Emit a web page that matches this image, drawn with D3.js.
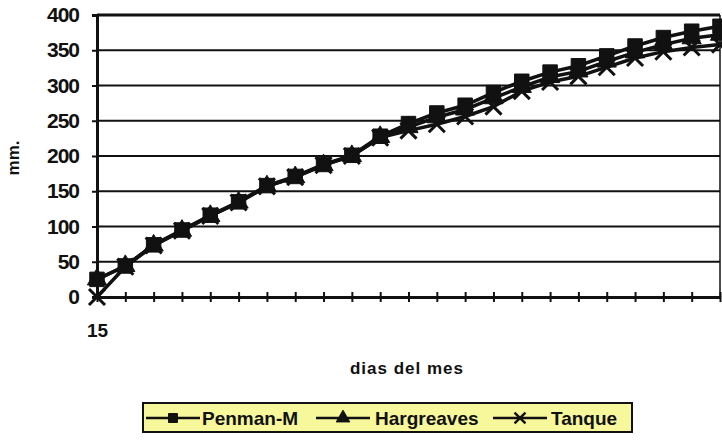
<!DOCTYPE html>
<html>
<head>
<meta charset="utf-8">
<script src="https://cdn.jsdelivr.net/npm/d3@7"></script>
<style>
  html, body { margin: 0; padding: 0; background: #fff; }
  svg { display: block; }
  text { font-family: "Liberation Sans", Arial, sans-serif; font-weight: bold; fill: #111; }
</style>
</head>
<body>
<svg id="chart" width="722" height="441"></svg>
<script>
// Days of the month (category axis)
const days = [15, 16, 17, 18, 19, 20, 21, 22, 23, 24, 25, 26, 27, 28, 29, 30, 31, 32, 33, 34, 35, 36, 37];
// Only the first day carries a label on the axis
const dayLabels = ["15"];
// Cumulative evapotranspiration, mm
const penman     = [25, 44, 74, 95, 116, 135, 158, 171, 188, 201, 228, 246, 261, 272, 290, 306, 319, 328, 342, 356, 368, 377, 384];
const hargreaves = [25, 44, 73, 94, 115, 134, 157, 170, 187, 200, 227, 241, 255, 266, 282, 298, 312, 320, 334, 347, 358, 367, 372];
const tanque     = [0, 43, 73, 94, 115, 134, 157, 170, 187, 200, 226, 236, 245, 256, 270, 292, 305, 313, 326, 339, 348, 354, 358];
const yTicks = [0, 50, 100, 150, 200, 250, 300, 350, 400];
const seriesNames = ["Penman-M", "Hargreaves", "Tanque"];

const svg = d3.select("#chart");
const plotLeft = 97, plotRight = 720, plotTop = 15, plotBottom = 297;

const x = d3.scalePoint().domain(days).range([plotLeft, plotRight]);
const y = d3.scaleLinear().domain([0, 400]).range([plotBottom, plotTop]);

// Horizontal gridlines
svg.append("g")
  .selectAll("line")
  .data(yTicks.filter(v => v > 0))
  .join("line")
  .attr("x1", plotLeft).attr("x2", plotRight)
  .attr("y1", d => y(d)).attr("y2", d => y(d))
  .attr("stroke", "#111").attr("stroke-width", d => d === 400 ? 3 : 2);

// Right border of plot area
svg.append("line")
  .attr("x1", plotRight).attr("x2", plotRight).attr("y1", plotTop).attr("y2", plotBottom)
  .attr("stroke", "#111").attr("stroke-width", 1.5);

// Y axis
const yAxis = svg.append("g")
  .attr("transform", `translate(${plotLeft},0)`)
  .call(d3.axisLeft(y).tickValues(yTicks).tickSize(5).tickPadding(13));
yAxis.select(".domain").attr("stroke", "#111").attr("stroke-width", 3);
yAxis.selectAll(".tick line").attr("stroke", "#111").attr("stroke-width", 2);
yAxis.selectAll(".tick text")
  .style("font-size", "21px").style("font-family", "'Liberation Sans', Arial, sans-serif")
  .style("font-weight", "bold").attr("fill", "#111")
  .attr("letter-spacing", "-1");

// X axis with ticks crossing the line
const xAxis = svg.append("g")
  .attr("transform", `translate(0,${plotBottom})`)
  .call(d3.axisBottom(x).tickSizeInner(5).tickSizeOuter(0).tickPadding(22)
    .tickFormat(d => dayLabels.includes(String(d)) ? String(d) : ""));
xAxis.select(".domain").attr("stroke", "#111").attr("stroke-width", 3);
xAxis.selectAll(".tick line").attr("y1", -5).attr("stroke", "#111").attr("stroke-width", 2);
xAxis.selectAll(".tick text")
  .style("font-size", "19px").style("font-family", "'Liberation Sans', Arial, sans-serif")
  .style("font-weight", "bold").attr("fill", "#111");

// Marker shapes
const symSquare = d3.symbol().type(d3.symbolSquare).size(210);
const symTri = d3.symbol().type(d3.symbolTriangle).size(160);
const symX = d3.symbol().type(d3.symbolX).size(170);

const line = d3.line().x((d, i) => x(days[i])).y(d => y(d));
const series = [
  { name: seriesNames[0], values: penman, sym: symSquare, fill: true },
  { name: seriesNames[1], values: hargreaves, sym: symTri, fill: true },
  { name: seriesNames[2], values: tanque, sym: symX, fill: false }
];

const plot = svg.append("g");
series.forEach(s => {
  plot.append("path")
    .attr("d", line(s.values))
    .attr("fill", "none").attr("stroke", "#111").attr("stroke-width", 3.5);
});
series.forEach(s => {
  plot.append("g").selectAll("path")
    .data(s.values)
    .join("path")
    .attr("transform", (d, i) => `translate(${x(days[i])},${y(d)})`)
    .attr("d", s.sym())
    .attr("fill", "#111")
    .attr("stroke", "#111").attr("stroke-width", s.fill ? 1 : 3);
});

// Axis titles
svg.append("text")
  .attr("transform", "translate(19,158) rotate(-90)")
  .attr("text-anchor", "middle")
  .style("font-size", "17px")
  .text("mm.");
svg.append("text")
  .attr("x", 407).attr("y", 374)
  .attr("text-anchor", "middle")
  .style("font-size", "17px")
  .attr("letter-spacing", "1")
  .text("dias del mes");

// Legend
const lg = svg.append("g");
lg.append("rect")
  .attr("x", 143).attr("y", 403).attr("width", 489).attr("height", 29)
  .attr("fill", "#f7f79c").attr("stroke", "#111").attr("stroke-width", 2);
const legendItems = [
  { s: series[0], x0: 146, tx: 202 },
  { s: series[1], x0: 316, tx: 375 },
  { s: series[2], x0: 493, tx: 551 }
];
legendItems.forEach(it => {
  const cy = 418;
  lg.append("line")
    .attr("x1", it.x0).attr("x2", it.x0 + 54)
    .attr("y1", cy).attr("y2", cy)
    .attr("stroke", "#111").attr("stroke-width", 2.5);
  lg.append("path")
    .attr("transform", `translate(${it.x0 + 27},${cy})`)
    .attr("d", it.s.sym.size(80)())
    .attr("fill", "#111").attr("stroke", "#111").attr("stroke-width", it.s.fill ? 1 : 2.5);
  lg.append("text")
    .attr("x", it.tx).attr("y", cy + 7)
    .style("font-size", "19px")
    .text(it.s.name);
});
</script>
</body>
</html>
